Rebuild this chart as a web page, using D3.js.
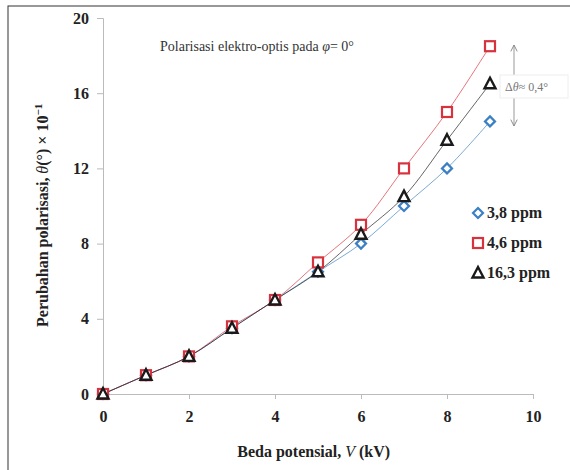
<!DOCTYPE html>
<html>
<head>
<meta charset="utf-8">
<script src="https://cdn.jsdelivr.net/npm/d3@7"></script>
<style>
  body { margin: 0; background: #fff; }
</style>
</head>
<body>
<div id="chart"></div>
<script>
// data
const voltage = [0, 1, 2, 3, 4, 5, 6, 7, 8, 9];
const ppm38 = [0, 1, 2, 3.5, 5, 6.5, 8, 10, 12, 14.5];
const ppm46 = [0, 1, 2, 3.6, 5, 7, 9, 12, 15, 18.5];
const ppm163 = [0, 1, 2, 3.5, 5, 6.5, 8.5, 10.5, 13.5, 16.5];
const xTicks = [0, 2, 4, 6, 8, 10];
const yTicks = [0, 4, 8, 12, 16, 20];

const seriesList = [
  { name: "3,8 ppm", values: ppm38, color: "#3b7fc4", shape: "diamond" },
  { name: "4,6 ppm", values: ppm46, color: "#d8323f", shape: "square" },
  { name: "16,3 ppm", values: ppm163, color: "#1a1a1a", shape: "triangle" }
];

const SERIF = "'Liberation Serif', 'DejaVu Serif', serif";
const W = 570, H = 470;
const margin = { top: 18, right: 37, bottom: 76, left: 103 };
const width = W - margin.left - margin.right,
      height = H - margin.top - margin.bottom;

const svg = d3.select("#chart").append("svg")
  .attr("width", W).attr("height", H)
  .style("font-family", SERIF);

// outer frame
svg.append("rect")
  .attr("x", 8).attr("y", 6).attr("width", 580).attr("height", 480)
  .attr("fill", "none").attr("stroke", "#333").attr("stroke-width", 1);

const g = svg.append("g")
  .attr("transform", "translate(" + margin.left + "," + margin.top + ")");

const x = d3.scaleLinear().domain([0, 10]).range([0, width]);
const y = d3.scaleLinear().domain([0, 20]).range([height, 0]);

// axes
const xAxis = g.append("g")
  .attr("transform", "translate(0," + height + ")")
  .call(d3.axisBottom(x).tickValues(xTicks).tickSize(5).tickPadding(12));
const yAxis = g.append("g")
  .call(d3.axisLeft(y).tickValues(yTicks).tickSize(6).tickPadding(8));

[xAxis, yAxis].forEach(a => {
  a.attr("font-family", SERIF);
  a.select(".domain").attr("stroke", "#bbb");
  a.selectAll(".tick line").attr("stroke", "#bbb");
  a.selectAll(".tick text")
    .attr("fill", "#222")
    .style("font-size", "16px")
    .style("font-weight", "bold")
    .style("font-family", SERIF);
});

// smoothed lines
const line = d3.line()
  .x((d, i) => x(voltage[i]))
  .y(d => y(d))
  .curve(d3.curveCatmullRom.alpha(0.5));

seriesList.forEach(s => {
  g.append("path")
    .datum(s.values)
    .attr("fill", "none")
    .attr("stroke", s.color)
    .attr("stroke-width", 0.8)
    .attr("stroke-opacity", 0.85)
    .attr("d", line);
});

function marker(sel, shape, color) {
  if (shape === "diamond") {
    sel.append("path").attr("d", "M0,-5 L5,0 L0,5 L-5,0 Z")
      .attr("fill", "#fff").attr("stroke", color).attr("stroke-width", 2.2);
  } else if (shape === "square") {
    sel.append("rect").attr("x", -5).attr("y", -5).attr("width", 10).attr("height", 10)
      .attr("fill", "#fff").attr("stroke", color).attr("stroke-width", 2.2);
  } else {
    sel.append("path").attr("d", "M0,-6 L5.5,4.5 L-5.5,4.5 Z")
      .attr("fill", "#fff").attr("stroke", color).attr("stroke-width", 2.4);
  }
}

seriesList.forEach(s => {
  s.values.forEach((v, i) => {
    const m = g.append("g")
      .attr("transform", "translate(" + x(voltage[i]) + "," + y(v) + ")");
    marker(m, s.shape, s.color);
  });
});

// axis titles
svg.append("text")
  .attr("x", margin.left + x(4.9)).attr("y", 457)
  .attr("text-anchor", "middle")
  .style("font-size", "16px").style("font-weight", "bold").attr("fill", "#222")
  .html("Beda potensial, <tspan font-style='italic' font-weight='normal'>V</tspan> (kV)");

svg.append("text")
  .attr("transform", "translate(48," + (margin.top + y(9.5)) + ") rotate(-90)")
  .attr("text-anchor", "middle")
  .style("font-size", "16px").style("font-weight", "bold").attr("fill", "#222")
  .html("Perubahan polarisasi, <tspan font-style='italic' font-weight='normal'>θ</tspan>(°) × 10<tspan dy='-6' font-size='11px'>−1</tspan>");

// annotation
svg.append("text")
  .attr("x", 160).attr("y", 51)
  .style("font-size", "14px").attr("fill", "#333")
  .html("Polarisasi elektro-optis pada <tspan font-style='italic'>φ</tspan>= 0°");

// delta arrows
const ax = 514;
const defs = svg.append("defs");
defs.append("marker").attr("id", "arr").attr("viewBox", "0 0 10 10")
  .attr("refX", 9).attr("refY", 5).attr("markerWidth", 8).attr("markerHeight", 8)
  .attr("orient", "auto-start-reverse")
  .append("path").attr("d", "M1,1 L9,5 L1,9").attr("fill", "none").attr("stroke", "#888").attr("stroke-width", 1.2);

svg.append("line").attr("x1", ax).attr("x2", ax).attr("y1", 75).attr("y2", 45)
  .attr("stroke", "#999").attr("marker-end", "url(#arr)");
svg.append("line").attr("x1", ax).attr("x2", ax).attr("y1", 98).attr("y2", 126)
  .attr("stroke", "#999").attr("marker-end", "url(#arr)");
svg.append("rect").attr("x", 500).attr("y", 75).attr("width", 68).attr("height", 23)
  .attr("fill", "#fff").attr("stroke", "#eee");
svg.append("text").attr("x", 505).attr("y", 91)
  .style("font-size", "12px").attr("fill", "#777")
  .html("Δ<tspan font-style='italic'>θ</tspan>≈ 0,4°");

// legend
const legend = svg.append("g").attr("transform", "translate(478,213)");
seriesList.forEach((s, i) => {
  const row = legend.append("g").attr("transform", "translate(0," + (i * 30) + ")");
  marker(row.append("g"), s.shape, s.color);
  row.append("text").attr("x", 9).attr("y", 5)
    .style("font-size", "16px").style("font-weight", "bold").attr("fill", "#222")
    .text(s.name);
});
</script>
</body>
</html>
